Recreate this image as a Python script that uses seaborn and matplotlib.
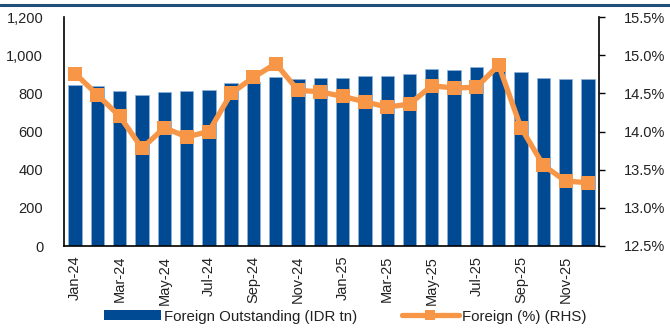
import numpy as np
import pandas as pd
import matplotlib
matplotlib.use("Agg")
import matplotlib.pyplot as plt
import seaborn as sns
from matplotlib.lines import Line2D
from matplotlib.patches import Patch

months = ["Jan-24", "Feb-24", "Mar-24", "Apr-24", "May-24", "Jun-24",
          "Jul-24", "Aug-24", "Sep-24", "Oct-24", "Nov-24", "Dec-24",
          "Jan-25", "Feb-25", "Mar-25", "Apr-25", "May-25", "Jun-25",
          "Jul-25", "Aug-25", "Sep-25", "Oct-25", "Nov-25", "Dec-25"]
foreign_outstanding = [844, 838, 814, 791, 808, 810, 817, 854, 860, 887, 873, 878,
                       883, 891, 892, 901, 928, 921, 936, 932, 912, 880, 873, 873]
foreign_pct = [14.76, 14.48, 14.20, 13.78, 14.05, 13.93, 14.00, 14.50, 14.71, 14.89,
               14.54, 14.52, 14.46, 14.39, 14.32, 14.36, 14.60, 14.57, 14.58, 14.87,
               14.05, 13.56, 13.35, 13.33]
left_ticks = [0, 200, 400, 600, 800, 1000, 1200]
right_ticks = [12.5, 13.0, 13.5, 14.0, 14.5, 15.0, 15.5]

BAR_COLOR = "#004A93"
LINE_COLOR = "#F79646"
TEXT_COLOR = "#222222"

sns.set_theme(style="white")
plt.rcParams["font.family"] = ["Liberation Sans", "DejaVu Sans"]
plt.rcParams["font.size"] = 10

df = pd.DataFrame({"month": months,
                   "outstanding": foreign_outstanding,
                   "pct": foreign_pct})
df["pos"] = np.arange(len(df))

fig = plt.figure(figsize=(6.7, 3.28), dpi=100)
ax = fig.add_axes([0.0955, 0.25, 0.7985, 0.698])

sns.barplot(data=df, x="month", y="outstanding", color=BAR_COLOR, saturation=1,
            width=0.6, edgecolor="#8FB3DA", linewidth=0.5, ax=ax)
ax.set_ylim(0, 1200)
ax.set_yticks(left_ticks)
ax.set_yticklabels([f"{v:,}" for v in left_ticks], fontsize=10.5, color=TEXT_COLOR)
ax.set_xlim(-0.5, len(months) - 0.5)
ax.set_xlabel("")
ax.set_ylabel("")

# category labels every other month, tick marks on the category boundaries
ax.set_xticks(np.arange(0, len(months), 2))
ax.set_xticklabels(months[::2], rotation=90, fontsize=10.5, color=TEXT_COLOR)
ax.set_xticks(np.arange(-0.5, len(months), 2), minor=True)
ax.tick_params(axis="x", which="major", length=0, pad=7)
ax.tick_params(axis="x", which="minor", length=5, width=1, color="black", direction="out")
ax.tick_params(axis="y", length=0, pad=15)

ax2 = ax.twinx()
sns.lineplot(data=df, x="pos", y="pct", color=LINE_COLOR, linewidth=3.8,
             marker="s", markersize=10.5, markeredgewidth=0, ax=ax2)
ax2.set_ylim(12.5, 15.5)
ax2.set_yticks(right_ticks)
ax2.set_yticklabels([f"{v:.1f}%" for v in right_ticks], fontsize=10.5, color=TEXT_COLOR)
ax2.set_ylabel("")
ax2.set_xlabel("")
ax2.tick_params(axis="y", length=4, width=1, color="black", direction="out", pad=14)

for a in (ax, ax2):
    a.spines["top"].set_visible(False)
ax.spines["right"].set_visible(False)
ax.spines["left"].set_color("black")
ax.spines["left"].set_linewidth(1.2)
ax.spines["bottom"].set_color("black")
ax.spines["bottom"].set_linewidth(1.2)
ax2.spines["left"].set_visible(False)
ax2.spines["bottom"].set_visible(False)
ax2.spines["right"].set_color("black")
ax2.spines["right"].set_linewidth(1.2)

# header rule across the top of the figure
fig.add_artist(Line2D([0, 1], [0.985, 0.985], transform=fig.transFigure,
                      color="#1F4E79", linewidth=2.2))

handles = [Patch(facecolor=BAR_COLOR, edgecolor="none"),
           Line2D([0], [0], color=LINE_COLOR, linewidth=3.8, marker="s",
                  markersize=7, markeredgewidth=0)]
labels = ["Foreign Outstanding (IDR tn)", "Foreign (%) (RHS)"]
fig.legend(handles, labels, loc="center", bbox_to_anchor=(0.515, 0.035), ncol=2,
           frameon=False, fontsize=10.8, handlelength=3.8, handleheight=0.6,
           columnspacing=3.0, handletextpad=0.2, labelcolor=TEXT_COLOR)

fig.savefig("out.png", dpi=100)
